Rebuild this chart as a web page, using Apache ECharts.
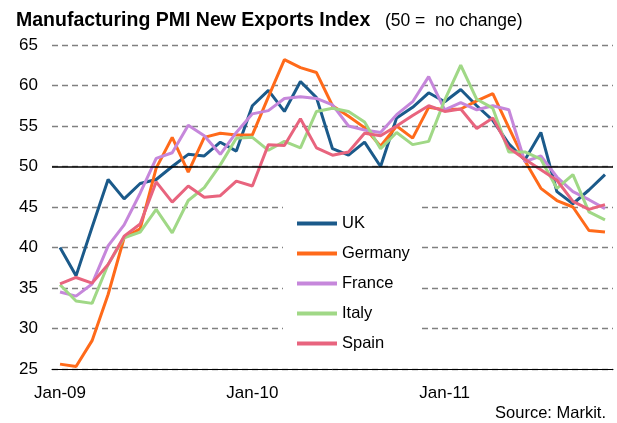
<!DOCTYPE html>
<html lang="en">
<head>
    <meta charset="UTF-8">
    <title>PMI New Exports</title>
    <script src="https://cdn.jsdelivr.net/npm/echarts@6/dist/echarts.min.js"></script>
    <style>
        *{
            padding:0;
            margin:0;
        }
        html,body{
            height:100%;
            background:#fff;
        }
        #main{
            width:617px;
            height:423px;
        }
    </style>
</head>
<body>
<div id="main"></div>
<script>
    var months=['Jan-09','Feb-09','Mar-09','Apr-09','May-09','Jun-09','Jul-09','Aug-09','Sep-09','Oct-09','Nov-09','Dec-09',
        'Jan-10','Feb-10','Mar-10','Apr-10','May-10','Jun-10','Jul-10','Aug-10','Sep-10','Oct-10','Nov-10','Dec-10',
        'Jan-11','Feb-11','Mar-11','Apr-11','May-11','Jun-11','Jul-11','Aug-11','Sep-11','Oct-11','Nov-11'];

    var uk=[40.0,36.5,42.5,48.4,46.0,47.9,48.4,50.0,51.5,51.3,53.0,51.9,
        57.5,59.4,56.8,60.5,58.5,52.2,51.4,53.0,50.0,56.0,57.3,59.1,
        58.0,59.5,57.5,55.7,52.8,50.8,54.2,46.9,45.4,47.1,49.0];
    var germany=[25.6,25.3,28.5,34.2,41.2,42.3,49.8,53.6,49.3,53.6,54.1,53.9,
        53.9,58.6,63.2,62.2,61.6,57.5,56.2,54.8,52.5,55.0,53.5,57.3,
        57.0,57.1,58.1,59.0,54.8,50.7,47.3,45.8,45.0,42.1,41.9];
    var france=[34.5,34.0,35.5,40.2,42.8,46.7,51.0,51.7,55.1,53.8,51.5,54.2,
        56.5,56.9,58.4,58.6,58.4,57.6,55.0,54.5,54.2,56.4,58.0,61.1,
        57.0,57.9,57.0,57.5,57.0,50.6,51.3,48.7,46.9,45.9,44.8];
    var italy=[35.4,33.4,33.1,37.9,41.2,41.9,44.7,41.8,45.8,47.4,50.2,53.5,
        53.6,52.0,53.1,52.3,56.8,57.2,56.8,55.5,52.2,54.2,52.7,53.1,
        58.2,62.5,58.3,57.2,51.8,51.8,50.9,47.3,49.0,44.4,43.4];
    var spain=[35.5,36.3,35.6,37.9,41.4,42.9,48.1,45.6,47.6,46.2,46.4,48.2,
        47.6,52.7,52.6,55.9,52.3,51.4,51.8,54.1,53.8,55.0,56.3,57.5,
        56.8,57.1,54.7,56.0,52.3,50.9,49.6,48.3,45.7,44.7,45.3];

    var names=['UK','Germany','France','Italy','Spain'];
    var colors=['#1b5a8a','#ff6a1a','#c687db','#a0d886','#e8647e'];
    var values=[uk,germany,france,italy,spain];

    var font='"Liberation Sans", Arial, sans-serif';
    var myChart=echarts.init(document.getElementById('main'));

    var series=[];
    for(var i=0;i<names.length;i++){
        series.push({
            name:names[i],
            type:'line',
            data:values[i],
            symbol:'none',
            color:colors[i],
            lineStyle:{width:3,color:colors[i]},
            animation:false
        });
    }
    // black no-change line at 50
    series[0].markLine={
        symbol:'none',
        silent:true,
        label:{show:false},
        lineStyle:{color:'#000',width:1.5,type:'solid'},
        data:[{yAxis:50}]
    };

    var option={
        backgroundColor:'#fff',
        title:{
            text:'{b|Manufacturing PMI New Exports Index}{n|   (50 =  no change)}',
            left:11,
            top:6,
            textStyle:{
                rich:{
                    b:{fontSize:19.5,fontWeight:'bold',color:'#000',fontFamily:font},
                    n:{fontSize:17.5,fontWeight:'normal',color:'#000',fontFamily:font}
                }
            }
        },
        graphic:[{
            type:'text',
            right:11,
            top:405,
            style:{text:'Source: Markit.',fontSize:16.5,fill:'#000',fontFamily:font}
        }],
        legend:{
            orient:'vertical',
            left:283,
            top:205,
            padding:[10,12,10,14],
            backgroundColor:'#fff',
            icon:'rect',
            itemWidth:40,
            itemHeight:4,
            itemGap:13,
            data:names,
            textStyle:{fontSize:16.5,color:'#000',fontFamily:font}
        },
        grid:{
            left:52,
            right:4,
            top:45,
            bottom:54
        },
        xAxis:{
            type:'category',
            data:months,
            boundaryGap:true,
            axisLine:{lineStyle:{color:'#000',width:1}},
            axisTick:{interval:11,length:5,lineStyle:{color:'#000'}},
            axisLabel:{interval:11,margin:16,fontSize:17,color:'#000',fontFamily:font}
        },
        yAxis:{
            type:'value',
            min:25,
            max:65,
            interval:5,
            axisLine:{show:false},
            axisTick:{show:false},
            axisLabel:{margin:14,fontSize:17,color:'#000',fontFamily:font},
            splitLine:{lineStyle:{color:'#808080',width:1.3,type:[6,4]}}
        },
        series:series
    };
    myChart.setOption(option);
</script>
</body>
</html>
